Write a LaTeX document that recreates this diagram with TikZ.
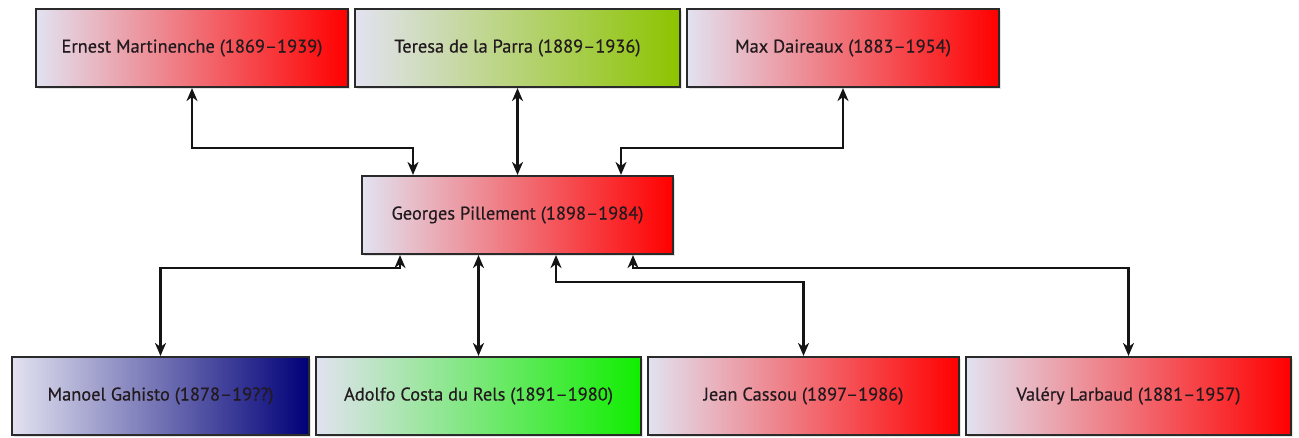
\documentclass[tikz,border=0pt]{standalone}
\usepackage{fontspec}
\setmainfont{PT Sans}
\newfontfamily\boxfont{PT Sans}[Ligatures=TeX,UprightFeatures={FakeBold=0.45}]
\usetikzlibrary{arrows.meta,shadows,calc}
\definecolor{lav}{HTML}{E2E2F0}
\definecolor{boxline}{HTML}{2A2A2A}
\definecolor{txt}{HTML}{221A1E}
\definecolor{cred}{HTML}{FF0000}
\definecolor{colive}{HTML}{8CC400}
\definecolor{cnavy}{HTML}{000078}
\definecolor{clime}{HTML}{10EE00}
\begin{document}
\begin{tikzpicture}[x=1pt,y=-1pt,
  box/.style={draw=boxline, line width=2.1pt, inner sep=0pt, minimum height=78pt,
    left color=lav, right color=#1, text=txt,
    font=\boxfont\fontsize{18.4}{21}\selectfont,
    drop shadow={opacity=0.22, shadow xshift=1.5pt, shadow yshift=-2pt}},
  conn/.style={draw=black!92, line width=2.1pt,
    {Stealth[length=13pt,width=11pt,inset=4pt]}-{Stealth[length=13pt,width=11pt,inset=4pt]}}]
\useasboundingbox (0,0) rectangle (1299,437);
% top row
\node[box=cred, minimum width=312pt] (ernest) at (192,48) {Ernest Martinenche (1869–1939)};
\node[box=colive, minimum width=325pt] (teresa) at (517.5,48) {Teresa de la Parra (1889–1936)};
\node[box=cred, minimum width=312pt] (max) at (843,48) {Max Daireaux (1883–1954)};
% centre
\node[box=cred, minimum width=311pt] (georges) at (517.5,215) {Georges Pillement (1898–1984)};
% bottom row
\node[box=cnavy, minimum width=297pt] (manoel) at (160.5,396) {Manoel Gahisto (1878–19??)};
\node[box=clime, minimum width=325pt] (adolfo) at (478.5,396) {Adolfo Costa du Rels (1891–1980)};
\node[box=cred, minimum width=311pt] (jean) at (803.5,396) {Jean Cassou (1897–1986)};
\node[box=cred, minimum width=325pt] (valery) at (1128.5,396) {Valéry Larbaud (1881–1957)};
% routing levels
\coordinate (hTop) at (0,148);
\coordinate (hLow) at (0,268);
\coordinate (hJean) at (0,282);
% connectors
\draw[conn] (ernest.south) -- (ernest.south |- hTop) -| ([xshift=-104.5pt]georges.north);
\draw[conn] (teresa.south) -- (georges.north);
\draw[conn] (max.south) -- (max.south |- hTop) -| ([xshift=103.5pt]georges.north);
\draw[conn] ([xshift=-117.5pt]georges.south) |- (manoel.north |- hLow) -- (manoel.north);
\draw[conn] ([xshift=-39pt]georges.south) -- ([xshift=-39pt]georges.south |- adolfo.north);
\draw[conn] ([xshift=38.5pt]georges.south) |- (jean.north |- hJean) -- (jean.north);
\draw[conn] ([xshift=115.5pt]georges.south) |- (valery.north |- hLow) -- (valery.north);
\end{tikzpicture}
\end{document}
